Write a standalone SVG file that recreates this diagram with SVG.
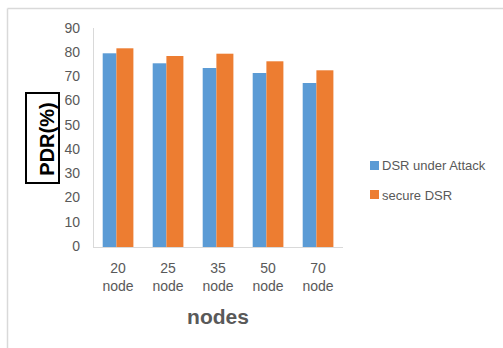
<svg xmlns="http://www.w3.org/2000/svg" width="503" height="348" viewBox="0 0 503 348">
<style>
.tick{font-family:"Liberation Sans",Arial,sans-serif;font-size:14px;fill:#595959}
.cat{font-family:"Liberation Sans",Arial,sans-serif;font-size:14px;fill:#595959;text-anchor:middle}
.leg{font-family:"Liberation Sans",Arial,sans-serif;font-size:13px;fill:#595959}
.blue{fill:#5B9BD5}
.orange{fill:#ED7D31}
.axis{stroke:#d9d9d9;stroke-width:1;fill:none}
</style>
<rect x="0" y="0" width="503" height="348" fill="#ffffff"/>
<g id="frame">
<line x1="7.5" y1="8.5" x2="503" y2="8.5" stroke="#d9d9d9" stroke-width="1.5"/>
<line x1="7.5" y1="8.5" x2="7.5" y2="348" stroke="#d9d9d9" stroke-width="1.5"/>
</g>
<g id="axes">
<line class="axis" x1="93.5" y1="28" x2="93.5" y2="247.5"/>
<line class="axis" x1="93" y1="247.5" x2="343" y2="247.5"/>
</g>
<g id="yticks" text-anchor="end">
<text class="tick" x="80" y="32.5">90</text>
<text class="tick" x="80" y="56.8">80</text>
<text class="tick" x="80" y="81">70</text>
<text class="tick" x="80" y="105.3">60</text>
<text class="tick" x="80" y="129.6">50</text>
<text class="tick" x="80" y="153.8">40</text>
<text class="tick" x="80" y="178.1">30</text>
<text class="tick" x="80" y="202.4">20</text>
<text class="tick" x="80" y="226.6">10</text>
<text class="tick" x="80" y="250.9">0</text>
</g>
<g id="bars">
<rect class="blue" x="102.7" y="53.3" width="13.7" height="193.7"/>
<rect class="orange" x="116.4" y="48.3" width="17" height="198.7"/>
<rect class="blue" x="152.7" y="63.3" width="13.7" height="183.7"/>
<rect class="orange" x="166.4" y="56" width="17" height="191"/>
<rect class="blue" x="202.7" y="68" width="13.7" height="179"/>
<rect class="orange" x="216.4" y="53.7" width="17" height="193.3"/>
<rect class="blue" x="252.7" y="73" width="13.7" height="174"/>
<rect class="orange" x="266.4" y="61.3" width="17" height="185.7"/>
<rect class="blue" x="302.7" y="83" width="13.7" height="164"/>
<rect class="orange" x="316.4" y="70.3" width="17" height="176.7"/>
</g>
<g id="categories">
<text class="cat" x="118" y="272.5">20</text><text class="cat" x="118" y="290.5">node</text>
<text class="cat" x="168" y="272.5">25</text><text class="cat" x="168" y="290.5">node</text>
<text class="cat" x="218" y="272.5">35</text><text class="cat" x="218" y="290.5">node</text>
<text class="cat" x="268" y="272.5">50</text><text class="cat" x="268" y="290.5">node</text>
<text class="cat" x="318" y="272.5">70</text><text class="cat" x="318" y="290.5">node</text>
</g>
<g id="xtitle">
<text x="218" y="323.5" text-anchor="middle" font-family="Liberation Sans,Arial,sans-serif" font-size="21" font-weight="bold" fill="#595959">nodes</text>
</g>
<g id="ytitle">
<rect x="26" y="93" width="33" height="90" fill="#ffffff" stroke="#000000" stroke-width="2"/>
<text transform="translate(53.5,139) rotate(-90)" text-anchor="middle" font-family="Liberation Sans,Arial,sans-serif" font-size="20" font-weight="bold" fill="#000000">PDR(%)</text>
</g>
<g id="legend">
<rect class="blue" x="370" y="161" width="9" height="9"/>
<text class="leg" x="382" y="170">DSR under Attack</text>
<rect class="orange" x="370" y="190" width="9" height="9"/>
<text class="leg" x="382" y="200">secure DSR</text>
</g>
</svg>
